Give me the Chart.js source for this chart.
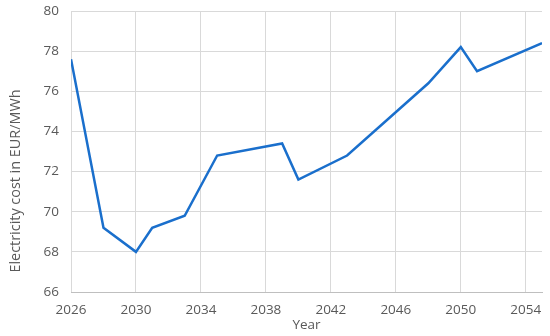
<!DOCTYPE html>
<html>
<head>
<meta charset="utf-8">
<script src="https://cdn.jsdelivr.net/npm/chart.js@4/dist/chart.umd.min.js"></script>
<style>
html,body{margin:0;padding:0;background:#fff;}
#wrap{width:550px;height:336px;}
</style>
</head>
<body>
<div id="wrap"><canvas id="c" width="550" height="336"></canvas></div>
<script>
const years = [2026, 2028, 2030, 2031, 2033, 2035, 2039, 2040, 2043, 2048, 2050, 2051, 2055];
const cost = [77.6, 69.2, 68.0, 69.2, 69.8, 72.8, 73.4, 71.6, 72.8, 76.4, 78.2, 77.0, 78.4];
const xTicks = [2026, 2030, 2034, 2038, 2042, 2046, 2050, 2054];
const yTicks = [66, 68, 70, 72, 74, 76, 78, 80];
const xTitle = 'Year';
const yTitle = 'Electricity cost in EUR/MWh';

const points = years.map((y, i) => ({x: y, y: cost[i]}));
const fontFamily = '"Open Sans", "Noto Sans", sans-serif';
const textColor = '#595959';
const gridColor = '#d9d9d9';

// Draws the y-axis title (real canvas text), placed as in the reference
const yTitlePlugin = {
  id: 'yTitle',
  afterDraw(chart) {
    const ctx = chart.ctx;
    ctx.save();
    ctx.fillStyle = textColor;
    ctx.font = '14.4px ' + fontFamily;
    ctx.textAlign = 'center';
    ctx.textBaseline = 'middle';
    ctx.translate(15.5, 181);
    ctx.rotate(-Math.PI / 2);
    ctx.fillText(yTitle, 0, 0);
    ctx.restore();
  }
};

new Chart(document.getElementById('c'), {
  type: 'line',
  data: {
    datasets: [{
      data: points,
      borderColor: '#1a6fcc',
      borderWidth: 2.5,
      pointRadius: 0,
      tension: 0,
      fill: false
    }]
  },
  options: {
    responsive: false,
    animation: false,
    layout: {padding: {top: 11, right: 8, bottom: 0, left: 0}},
    plugins: {legend: {display: false}, tooltip: {enabled: false}},
    scales: {
      x: {
        type: 'linear',
        min: 2026,
        max: 2055,
        afterBuildTicks: (axis) => { axis.ticks = xTicks.map(v => ({value: v})); },
        afterFit: (axis) => { axis.height = 44; axis.paddingLeft = 0; axis.paddingRight = 0; },
        ticks: {
          color: textColor,
          font: {family: fontFamily, size: 13.5},
          maxRotation: 0,
          autoSkip: false,
          padding: 10,
          callback: (v) => String(v)
        },
        grid: {color: gridColor, lineWidth: 1, drawTicks: false},
        border: {color: '#bfbfbf', width: 1},
        title: {display: true, text: xTitle, color: textColor, font: {family: fontFamily, size: 13.5}, padding: {top: 0, bottom: 3}}
      },
      y: {
        min: 66,
        max: 80,
        afterBuildTicks: (axis) => { axis.ticks = yTicks.map(v => ({value: v})); },
        afterFit: (axis) => { axis.width = 71; axis.paddingTop = 0; axis.paddingBottom = 0; },
        ticks: {
          color: textColor,
          font: {family: fontFamily, size: 13.5},
          padding: 12,
          callback: (v) => String(v)
        },
        grid: {color: gridColor, lineWidth: 1, drawTicks: false},
        border: {display: false},
        title: {display: false}
      }
    }
  },
  plugins: [yTitlePlugin]
});
</script>
</body>
</html>
